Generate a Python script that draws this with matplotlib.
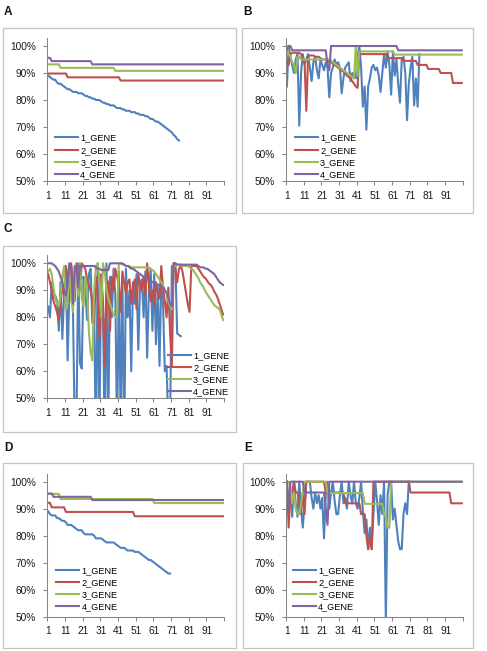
import numpy as np
import matplotlib
matplotlib.use("Agg")
import matplotlib.pyplot as plt
from matplotlib.ticker import FixedLocator, PercentFormatter
from matplotlib.patches import Rectangle

plt.rcParams['font.family'] = ['Liberation Sans', 'DejaVu Sans']

# ---- data (percent), one value per position 1..n ----
series_names = ['1_GENE', '2_GENE', '3_GENE', '4_GENE']
colors = ['#4F81BD', '#C0504D', '#9BBB59', '#8064A2']
x_labels = ['1', '11', '21', '31', '41', '51', '61', '71', '81', '91']

# panel A
a_gene1 = [89, 88.5, 88, 87.5, 87.5, 86.5, 86, 86, 85.5, 85, 84.5, 84, 84, 83.5, 83,
           83, 83, 82.5, 82.5, 82.5, 82, 81.5, 81.5, 81, 81, 80.5, 80.5, 80, 80, 80,
           79.5, 79, 79, 78.5, 78.5, 78, 78, 78, 77.5, 77, 77, 77, 76.5, 76.5, 76,
           76, 76, 75.5, 75.5, 75.5, 75, 75, 74.5, 74.5, 74.5, 74, 74, 73.5, 73, 73,
           72.5, 72, 72, 71.5, 71, 70.5, 70, 69.5, 69, 68.5, 68, 67, 66.5, 65.5, 65]
a_gene2 = [89.8] * 11 + [88.4] * 30 + [87.2] * 59
a_gene3 = [93.2] * 7 + [91.9] * 31 + [90.8] * 62
a_gene4 = [95.6] * 2 + [94.4] * 23 + [93.2] * 75

# panel B
b_gene1 = [85, 100, 96, 93, 90, 95, 97, 70.5, 90, 97, 93, 95, 97, 92, 87, 94, 96, 91, 88, 95,
           93, 91, 94, 92, 81, 90, 92, 95, 93, 94, 92, 82.5, 88, 92, 93, 94, 87, 90, 89, 88,
           96, 100, 92, 77.5, 85, 69, 85, 88, 92, 93, 91, 92, 89, 83, 90, 97, 92, 98, 93, 82,
           98, 89, 95, 86, 79, 95, 96, 90, 72.5, 86, 92, 96, 78, 88, 77.5, 97]
b_gene2 = [95, 93, 97, 97.5, 97.5, 97.5, 97.5, 97.5, 97, 95, 94, 76, 96, 96.5, 96.5, 96.5,
           96, 96, 96, 95.5, 95, 95, 95, 94.5, 94, 94, 93.5, 93, 92.5, 92, 91.5, 91, 90.5,
           90, 89, 88.5, 88, 87, 86, 85, 84.5] \
    + [97] * 16 + [95.5] * 9 + [94.5] * 8 + [93] * 6 + [91.5] * 7 + [90] * 7 + [86.3] * 6
b_gene3 = [100, 97, 96, 94, 93, 90, 96, 96, 95, 95, 95, 95, 95, 95, 95, 95, 95, 95, 95, 95,
           95, 95, 95, 95, 95, 94.5, 94, 93.5, 93, 92.5, 92, 91.5, 91, 90.5, 90, 89.5, 89,
           88.5, 88, 100, 89] + [98] * 20 + [96.8] * 39
b_gene4 = [98.4, 100, 100] + [98.4] * 20 + [93, 91] + [100] * 38 + [98.4] * 37

# panel C (values under 50 run off the bottom of the axis)
c_gene1 = [84, 80, 93, 87, 88, 86, 75, 93, 72, 88, 98, 64, 90, 99, 84, 40, 40, 100, 63, 61,
           95, 90, 79, 96, 98, 78, 85, 30, 100, 40, 95, 85, 30, 100, 40, 95, 80, 98, 88, 35,
           97, 40, 95, 30, 98, 80, 90, 60, 93, 85, 96, 68, 92, 94, 80, 97, 65, 90, 98, 75,
           96, 70, 92, 62, 94, 85, 60, 62, 40, 40, 99, 98, 100, 74, 73.5, 73]
c_gene2 = [96, 93, 90, 86, 84, 82, 79, 85, 92, 88, 99, 95, 86, 100, 92, 86, 100, 96, 90, 100,
           99, 98, 94, 92, 90, 86, 78, 95, 88, 72, 96, 85, 62, 94, 93, 75, 95, 90, 98, 95,
           92, 82, 97, 93, 89, 93, 94, 85, 92, 94, 83, 96, 92, 90, 95, 88, 100, 92, 86, 90,
           84, 93, 89, 87, 99, 91, 86, 80, 91, 74, 62, 100, 98, 93, 98, 99, 97, 93, 89, 85,
           82, 99, 99, 99, 99, 98, 97, 96, 95, 94.5, 93.5, 92.5, 92, 91, 89.5, 88.5, 87, 85,
           83, 81]
c_gene3 = [97, 98, 96, 91, 87, 85, 84, 88, 95, 99, 83, 85, 100, 88, 82, 91, 97, 88, 100, 87,
           84, 95, 90, 75, 67, 64, 90, 99, 100, 94, 80, 100, 97, 90, 87, 85, 83, 81, 80, 81,
           100, 100, 99.5, 99.5, 99, 99, 99, 98.5, 98.5, 98.5, 98.5, 98.5, 98.5, 98.5, 98.5,
           98.5, 98.5, 98.5, 98, 97.5, 97, 96, 95, 94, 93, 92, 90, 89, 86, 84, 83, 99, 99,
           99.5, 99.5, 99.5, 99, 99, 99, 99, 98.5, 98, 97.5, 96.5, 95.5, 94.5, 93, 92, 91,
           89.5, 88.5, 87.5, 86.5, 85.5, 84.5, 84, 83.5, 83, 81, 79]
c_gene4 = [100, 100, 100, 99.5, 99, 98, 97, 95, 93, 90, 88, 92, 100, 99, 85, 99, 98, 91, 99,
           99, 99, 99, 99, 99, 99, 99, 99, 98.5, 98, 98, 97.5, 97.5, 97.5, 97.5, 97.5, 100,
           100, 100, 100, 100, 100, 100, 100, 99.5, 99, 99, 98.5, 98, 98, 97.5, 97, 96.5, 96,
           95.5, 95, 94.5, 94, 94, 93.5, 93, 93, 92.5, 92, 92, 91.5, 91, 90, 89, 87, 85, 84,
           100, 100, 99.5, 99.5, 99.5, 99.5, 99.5, 99.5, 99.5, 99.5, 99.5, 99.5, 99.5, 99.5,
           99, 98.5, 98.5, 98.5, 98, 98, 97.5, 97, 96.5, 96, 95, 94, 93, 92.5, 92]

# panel D
d_gene1 = [89, 88, 87.5, 87.5, 87.5, 86.5, 86.5, 86, 85.5, 85.5, 85, 84, 84, 84, 83.5, 83,
           82.5, 82, 82, 82, 81, 80.5, 80.5, 80.5, 80.5, 80.5, 80, 79, 79, 79, 79, 78.5,
           78, 77.5, 77.5, 77.5, 77.5, 77.5, 77, 76.5, 76, 75.5, 75.5, 75.5, 75, 74.5, 74.5,
           74.5, 74.5, 74, 74, 74, 73.5, 73, 72.5, 72, 71.5, 71, 71, 70.5, 70, 69.5, 69,
           68.5, 68, 67.5, 67, 66.5, 66, 66]
d_gene2 = [92.2] * 2 + [90.5] * 8 + [88.8] * 39 + [87.2] * 51
d_gene3 = [95.5] * 7 + [93.6] * 53 + [92.1] * 40
d_gene4 = [95.6] * 3 + [94.4] * 22 + [93.2] * 75

# panel E
e_gene1 = [100, 88, 96, 87, 100, 92, 87, 100, 90, 83, 92, 100, 100, 100, 94, 90, 96, 92, 95,
           90, 94, 79, 95, 100, 90, 96, 100, 93, 88, 88, 95, 100, 92, 94, 90, 100, 95, 92,
           100, 92, 90, 94, 100, 89, 81, 86, 75, 83, 75, 88, 100, 93, 84, 95, 88, 100, 48,
           95, 100, 100, 86, 90, 84, 78, 75, 75, 88, 92, 88, 100]
e_gene2 = [100, 83, 96, 96, 100, 96, 96, 92, 88, 96, 88] + [100] * 11 + [96] * 11 \
    + [92] * 9 + [88] * 3 + [80, 75, 80, 75] + [100] * 21 + [96] * 23 + [92] * 7
e_gene3 = [100, 100, 98, 92, 96, 90, 88, 88, 92, 96] + [100] * 13 + [95.8] * 21 \
    + [91.8] * 11 + [88, 87, 83, 83] + [100] * 41
e_gene4 = [100, 90] + [100] * 8 + [96] * 12 + [90, 84] + [100] * 76

panels = [
    ('A', [a_gene1, a_gene2, a_gene3, a_gene4]),
    ('B', [b_gene1, b_gene2, b_gene3, b_gene4]),
    ('C', [c_gene1, c_gene2, c_gene3, c_gene4]),
    ('D', [d_gene1, d_gene2, d_gene3, d_gene4]),
    ('E', [e_gene1, e_gene2, e_gene3, e_gene4]),
]

# ---- layout in pixels ----
W, H = 487, 651
fig = plt.figure(figsize=(W / 100, H / 100), dpi=100)

# box (x0, y0, x1, y1), plot area (x0, x1, ytop, ybottom), label pos, legend
layout = {
    'A': dict(box=(3, 28, 236, 213), area=(47.3, 224, 37.9, 181), lab=(4, 12),
              leg=('lower left', (0.044, 0.012))),
    'B': dict(box=(242, 28, 473, 213), area=(286, 462.7, 37.9, 181), lab=(243, 12),
              leg=('lower left', (0.05, 0.012))),
    'C': dict(box=(3, 246, 236, 432), area=(47.3, 224, 255.2, 398.3), lab=(4, 229),
              leg=('lower right', (1.03, 0.012))),
    'D': dict(box=(3, 463, 236, 648), area=(47.3, 224, 473.6, 616.7), lab=(4, 448),
              leg=('lower left', (0.05, 0.035))),
    'E': dict(box=(243, 463, 473, 648), area=(286, 462.7, 473.6, 616.7), lab=(244, 448),
              leg=('lower left', (0.04, 0.035))),
}

axis_col = '#868686'
text_col = '#1a1a1a'

for name, data in panels:
    lay = layout[name]
    bx0, by0, bx1, by1 = lay['box']
    fig.patches.append(Rectangle((bx0 / W, 1 - by1 / H), (bx1 - bx0) / W, (by1 - by0) / H,
                                 transform=fig.transFigure, fill=False,
                                 edgecolor='#c4c4c4', linewidth=0.9))
    fig.text(lay['lab'][0] / W, 1 - lay['lab'][1] / H, name, fontsize=8.5,
             fontweight='bold', va='center', ha='left', color='#111111')

    x0, x1, yt, yb = lay['area']
    ax = fig.add_axes([x0 / W, 1 - yb / H, (x1 - x0) / W, (yb - yt) / H])
    for vals, lab, col in zip(data, series_names, colors):
        xs = np.arange(1, len(vals) + 1)
        ax.plot(xs, vals, color=col, linewidth=1.5, label=lab, solid_joinstyle='round')

    ax.set_xlim(0.5, 100.5)
    ax.set_ylim(50, 103)
    ax.set_yticks([50, 60, 70, 80, 90, 100])
    ax.yaxis.set_major_formatter(PercentFormatter(100, decimals=0))
    ax.set_xticks(np.arange(1, 92, 10))
    ax.set_xticklabels(x_labels)
    ax.xaxis.set_minor_locator(FixedLocator(np.arange(0.5, 101, 10)))
    ax.tick_params(axis='x', which='major', length=0, pad=7, labelsize=7.3, colors=text_col)
    ax.tick_params(axis='x', which='minor', length=3, width=0.75, color=axis_col)
    ax.tick_params(axis='y', length=3, width=0.75, color=axis_col, labelsize=7.3,
                   labelcolor=text_col, pad=5)
    for s in ['top', 'right']:
        ax.spines[s].set_visible(False)
    for s in ['left', 'bottom']:
        ax.spines[s].set_color(axis_col)
        ax.spines[s].set_linewidth(0.75)

    loc, anchor = lay['leg']
    ax.legend(loc=loc, bbox_to_anchor=anchor, frameon=False, fontsize=6.6,
              handlelength=2.5, handletextpad=0.25, labelspacing=0.35,
              borderpad=0, borderaxespad=0)

fig.savefig('out.png', dpi=100)
